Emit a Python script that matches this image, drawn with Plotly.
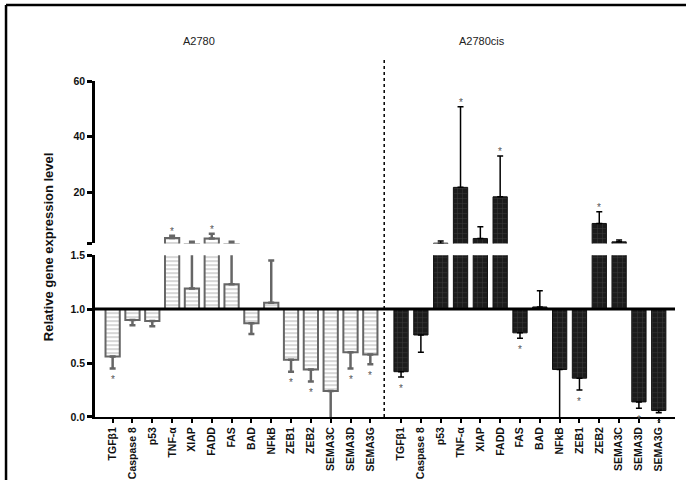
import plotly.graph_objects as go

genes = ["TGFβ1", "Caspase 8", "p53", "TNF-α", "XIAP", "FADD", "FAS", "BAD",
         "NFkB", "ZEB1", "ZEB2", "SEMA3C", "SEMA3D", "SEMA3G"]

a2780_mean = [0.56, 0.90, 0.89, 3.5, 1.19, 3.3, 1.23, 0.87, 1.06, 0.53, 0.44, 0.24, 0.60, 0.58]
a2780_err = [0.11, 0.05, 0.05, 0.74, 0.89, 1.66, 0.85, 0.10, 0.39, 0.11, 0.11, 0.26, 0.15, 0.09]
a2780_sig = [1, 0, 0, 1, 0, 1, 0, 0, 0, 1, 1, 0, 1, 1]

cis_mean = [0.42, 0.76, 1.6, 21.7, 3.3, 18.3, 0.78, 1.02, 0.44, 0.36, 8.7, 2.08, 0.14, 0.06]
cis_err = [0.05, 0.16, 0.8, 29.0, 4.2, 14.7, 0.05, 0.15, 0.47, 0.11, 4.2, 0.62, 0.06, 0.02]
cis_sig = [1, 0, 0, 1, 0, 1, 1, 0, 0, 1, 1, 0, 1, 1]

group_titles = ["A2780", "A2780cis"]
y_low_ticks = [0, 0.5, 1.0, 1.5]
y_low_text = ["0.0", "0.5", "1.0", "1.5"]
y_up_ticks = [1.5, 20, 40, 60]
y_up_text = ["", "20", "40", "60"]

BASE = 1.0
BREAK = 1.5
GAP = 14.55  # position offset of second group
x1 = list(range(len(genes)))
x2 = [GAP + i for i in range(len(genes))]

FONT = "Liberation Sans, Arial, sans-serif"

fig = go.Figure()


def add_group(xs, mean, err, marker, ecolor, ethick, name):
    up = [e if m >= BASE else 0 for m, e in zip(mean, err)]
    down = [e if m < BASE else 0 for m, e in zip(mean, err)]
    # lower panel: every bar
    fig.add_trace(go.Bar(
        x=xs, y=[m - BASE for m in mean], base=BASE, yaxis="y", xaxis="x", width=0.72,
        marker=marker, name=name, showlegend=False,
        error_y=dict(type="data", symmetric=False, array=up, arrayminus=down,
                     color=ecolor, thickness=ethick, width=3),
    ))
    # upper panel: only bars that reach above the break
    ys_up = [(m - BASE) if (m >= BASE and m + e > BREAK) else None for m, e in zip(mean, err)]
    fig.add_trace(go.Bar(
        x=xs, y=ys_up, base=BASE, yaxis="y2", xaxis="x", width=0.72,
        marker=marker, name=name, showlegend=False,
        error_y=dict(type="data", symmetric=False, array=up, arrayminus=[0] * len(up),
                     color=ecolor, thickness=ethick, width=3),
    ))


add_group(x1, a2780_mean, a2780_err,
          dict(color="white", line=dict(color="#666666", width=2),
               pattern=dict(shape="-", fgcolor="#777777", bgcolor="white", size=4, solidity=0.3)),
          "#666666", 2.5, group_titles[0])
add_group(x2, cis_mean, cis_err,
          dict(color="#1c1c1c", line=dict(color="#111111", width=1),
               pattern=dict(shape="+", fgcolor="#6a6a6a", bgcolor="#1c1c1c", size=5, solidity=0.15)),
          "#000000", 1.5, group_titles[1])

annotations = []
for xs, mean, err, sig in [(x1, a2780_mean, a2780_err, a2780_sig), (x2, cis_mean, cis_err, cis_sig)]:
    for x, m, e, s in zip(xs, mean, err, sig):
        if not s:
            continue
        if m < BASE:
            annotations.append(dict(x=x, y=m - e, xref="x", yref="y", text="*", showarrow=False,
                                    xanchor="center", yanchor="middle", yshift=-11,
                                    font=dict(size=10, color="#555555", family=FONT)))
        else:
            top = m + e
            annotations.append(dict(x=x, y=top, xref="x", yref="y2" if top > BREAK else "y",
                                    text="*", showarrow=False, xanchor="center",
                                    yanchor="middle", yshift=4,
                                    font=dict(size=10, color="#555555", family=FONT)))

annotations.append(dict(x=0.179, y=1.119, xref="paper", yref="paper", text=group_titles[0],
                        xanchor="center", yanchor="middle", showarrow=False,
                        font=dict(size=11, color="#222222", family=FONT)))
annotations.append(dict(x=0.667, y=1.119, xref="paper", yref="paper", text=group_titles[1],
                        xanchor="center", yanchor="middle", showarrow=False,
                        font=dict(size=11, color="#222222", family=FONT)))
annotations.append(dict(x=-0.081, y=0.5055, xref="paper", yref="paper",
                        text="Relative gene expression level", textangle=-90, showarrow=False,
                        xanchor="center", yanchor="middle",
                        font=dict(size=13, color="#111111", family=FONT, weight="bold")))

shapes = [
    dict(type="line", xref="x domain", yref="y", x0=0, x1=1, y0=BASE, y1=BASE,
         line=dict(color="black", width=3), layer="above"),
    dict(type="line", xref="x", yref="paper", x0=13.7, x1=13.7, y0=0, y1=1.0715,
         line=dict(color="black", width=1.5, dash="dot"), layer="above"),
    # figure frame (top and left edges; the others fall outside the picture)
    dict(type="line", xref="paper", yref="paper", x0=-0.1534, x1=1.05, y0=1.2264, y1=1.2264,
         line=dict(color="black", width=2.5), layer="above"),
    dict(type="line", xref="paper", yref="paper", x0=-0.1534, x1=-0.1534, y0=-0.3, y1=1.2264,
         line=dict(color="black", width=2.5), layer="above"),
]

axis_common = dict(showline=True, linecolor="black", linewidth=2.5, ticks="outside",
                   ticklen=5, tickwidth=2.5, tickcolor="black", showgrid=False, zeroline=False,
                   automargin=False,
                   tickfont=dict(size=10.5, color="#111111", family=FONT, weight="bold"))

fig.update_layout(
    width=686, height=480,
    margin=dict(l=95, r=11, t=81, b=63, autoexpand=False),
    paper_bgcolor="white", plot_bgcolor="white",
    barmode="overlay",
    xaxis=dict(range=[-0.89, 28.37], tickvals=x1 + x2, ticktext=genes + genes, tickangle=-90,
               showline=True, linecolor="black", linewidth=2, ticks="outside", ticklen=4,
               tickwidth=2, tickcolor="black", showgrid=False, zeroline=False, anchor="y",
               automargin=False,
               tickfont=dict(size=10.5, color="#111111", family=FONT, weight="bold")),
    yaxis=dict(domain=[0, 0.4817], range=[0, BREAK], tickvals=y_low_ticks, ticktext=y_low_text,
               anchor="x", **axis_common),
    yaxis2=dict(domain=[0.5165, 1], range=[BREAK, 60], tickvals=y_up_ticks, ticktext=y_up_text,
                anchor="x", **axis_common),
    annotations=annotations,
    shapes=shapes,
)

fig.write_html("out.html", config={"displayModeBar": False},
               post_script="document.body.style.margin='0';document.body.style.overflow='hidden';")
